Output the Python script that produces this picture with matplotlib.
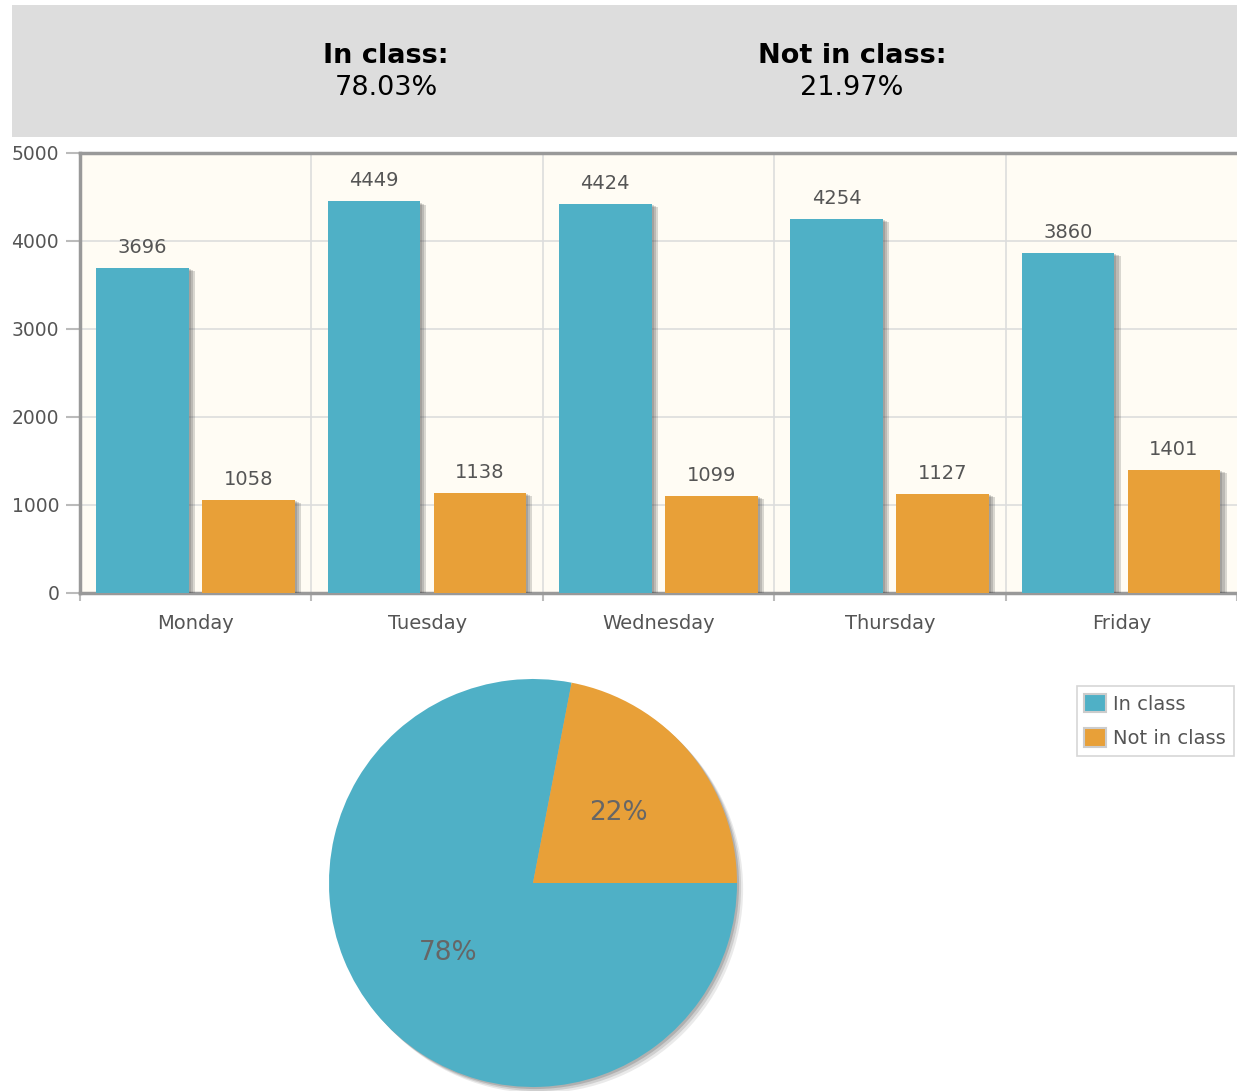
import matplotlib.pyplot as plt
import matplotlib.patheffects as pe
from matplotlib.patches import Rectangle, Circle, Patch
import numpy as np

days = ['Monday', 'Tuesday', 'Wednesday', 'Thursday', 'Friday']
in_class = [3696, 4449, 4424, 4254, 3860]
not_in_class = [1058, 1138, 1099, 1127, 1401]
share_labels = ['In class', 'Not in class']
share_pct = [78.03, 21.97]

blue = '#4fb0c6'
orange = '#e8a038'
txt = '#555555'

plt.rcParams['font.family'] = ['DejaVu Sans']

fig = plt.figure(figsize=(12.37, 10.91), dpi=100)

# header box
fig.patches.append(Rectangle((12 / 1237, 1 - 137 / 1091), (1237 - 12) / 1237, 132 / 1091,
                             transform=fig.transFigure, facecolor='#dddddd', edgecolor='none', zorder=0))
for xc, lab, pct in [(386, share_labels[0], share_pct[0]), (852, share_labels[1], share_pct[1])]:
    fig.text(xc / 1237, 1 - 56 / 1091, lab + ':', ha='center', va='center',
             fontsize=19.5, fontweight='bold', color='black')
    fig.text(xc / 1237, 1 - 88 / 1091, f'{pct:.2f}%', ha='center', va='center',
             fontsize=19.5, color='black')

# bar chart
ax = fig.add_axes([80 / 1237, (1091 - 593) / 1091, (1237 - 80) / 1237, 440 / 1091])
ax.set_facecolor('#fffcf4')
x = np.arange(len(days))
shadow = [pe.SimplePatchShadow(offset=(o, -o / 2), shadow_rgbFace='#444444', alpha=0.2)
          for o in (1.5, 3, 4.5)] + [pe.Normal()]
b1 = ax.bar(x - 0.23, in_class, width=0.4, color=blue, zorder=3)
b2 = ax.bar(x + 0.228, not_in_class, width=0.4, color=orange, zorder=3)
for bars, vals in [(b1, in_class), (b2, not_in_class)]:
    for r, v in zip(bars, vals):
        r.set_path_effects(shadow)
        ax.annotate(str(v), (r.get_x() + r.get_width() / 2, v), xytext=(0, 8),
                    textcoords='offset points', ha='center', va='bottom',
                    fontsize=14, color=txt)

ax.set_xlim(-0.5, 4.5)
ax.set_ylim(0, 5000)
ax.set_yticks(range(0, 5001, 1000))
ax.set_xticks(x)
ax.set_xticklabels(days)
ax.set_xticks(np.arange(-0.5, 4.6, 1), minor=True)
ax.tick_params(axis='x', which='major', length=0, pad=15, labelsize=14, labelcolor=txt)
ax.tick_params(axis='x', which='minor', length=6, width=1.5, color='#bbbbbb')
ax.tick_params(axis='y', length=10, width=1.5, color='#bbbbbb', pad=5, labelsize=13.5, labelcolor=txt)
ax.grid(axis='y', color='#dddddd', linewidth=1.2, zorder=1)
for b in np.arange(0.5, 4.5, 1):
    ax.axvline(b, color='#dddddd', linewidth=1.2, zorder=1)
for s in ['left', 'top', 'bottom']:
    ax.spines[s].set_color('#999999')
    ax.spines[s].set_linewidth(2.5)
ax.spines['right'].set_visible(False)

# pie chart
cx, cy, rad, pad = 533, 883, 204, 1.12
half = rad * pad
pax = fig.add_axes([(cx - half) / 1237, (1091 - cy - half) / 1091, 2 * half / 1237, 2 * half / 1091])
for o, a in [(0.01, 0.25), (0.02, 0.18), (0.03, 0.12)]:
    pax.add_patch(Circle((o, -o), 1, facecolor='#555555', alpha=a, edgecolor='none', zorder=0))
wedges, _, autotexts = pax.pie(share_pct, colors=[blue, orange], startangle=360 * share_pct[1] / 100,
                               autopct='%.0f%%', pctdistance=0.54,
                               textprops={'fontsize': 19, 'color': '#666666'})
for w in wedges:
    w.set_zorder(2)
pax.set_xlim(-pad, pad)
pax.set_ylim(-pad, pad)
pax.set_aspect('equal')

handles = [Patch(facecolor=c, edgecolor='#cccccc', linewidth=1.5) for c in (blue, orange)]
leg = fig.legend(handles, share_labels, loc='upper right', bbox_to_anchor=(1234 / 1237, 1 - 686 / 1091),
                 fontsize=14, frameon=True, fancybox=False, edgecolor='#cccccc', handlelength=1.1,
                 handleheight=1.1, handletextpad=0.4, borderpad=0.4, labelspacing=0.75, borderaxespad=0)
leg.get_frame().set_linewidth(1.2)
for t in leg.get_texts():
    t.set_color(txt)

fig.savefig('out.png', dpi=100)
